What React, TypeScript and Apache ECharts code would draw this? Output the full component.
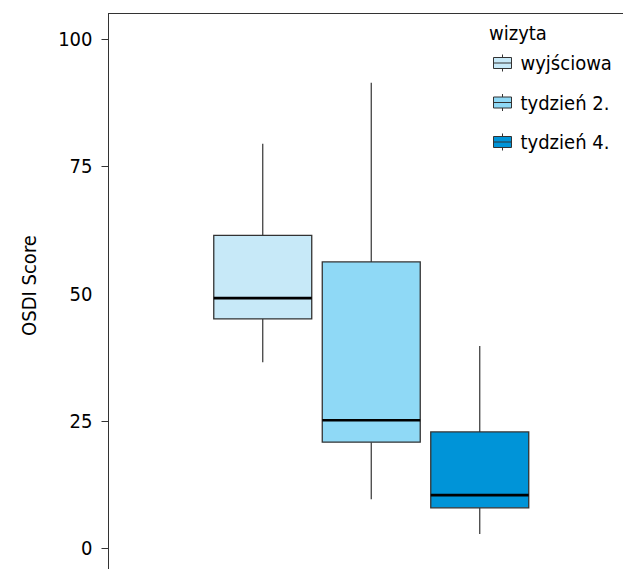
import React, { useEffect, useRef } from "react";
import * as echarts from "echarts";

const visits = ["wyjściowa", "tydzień 2.", "tydzień 4."];
const lowWhisker = [36.5, 9.6, 2.75];
const q1 = [45.0, 20.8, 7.9];
const median = [49.1, 25.1, 10.4];
const q3 = [61.4, 56.2, 22.8];
const highWhisker = [79.4, 91.4, 39.7];
const fills = ["#C7E9F8", "#8FD9F6", "#0094D8"];
const yLabelValues = [0, 25, 50, 75, 100];
const yTickValues = [0, 25, 75, 100];

const FONT = "'Liberation Sans Narrow', 'DejaVu Sans Condensed', 'Liberation Sans'";
const FS = 20;
const ICON = "path://M0 3 H18 V14 H0 Z M0 8.5 H18 M9 0 V3 M9 14 V17";

export default function App() {
  const ref = useRef<HTMLDivElement>(null);
  useEffect(() => {
    if (!ref.current) return;
    const chart = echarts.init(ref.current, undefined, { renderer: "svg" });
    const yRange = { min: -5, max: 105 };
    const series: any[] = visits.map((name, i) => ({
      type: "custom",
      name,
      xAxisIndex: 1,
      yAxisIndex: 1,
      itemStyle: { color: fills[i], borderColor: "#333", borderWidth: 1 },
      encode: { x: 0, y: [1, 2, 3, 4, 5] },
      data: [[i, lowWhisker[i], q1[i], median[i], q3[i], highWhisker[i]]],
      renderItem: (params: any, api: any) => {
        const cat = api.value(0);
        const pLow = api.coord([cat, api.value(1)]);
        const pQ1 = api.coord([cat, api.value(2)]);
        const pMed = api.coord([cat, api.value(3)]);
        const pQ3 = api.coord([cat, api.value(4)]);
        const pHigh = api.coord([cat, api.value(5)]);
        const bw = api.size([1, 0])[0] * 0.903;
        const x = pMed[0];
        return {
          type: "group",
          children: [
            { type: "line", shape: { x1: x, y1: pHigh[1], x2: x, y2: pQ3[1] }, style: { stroke: "#333", lineWidth: 1.2 } },
            { type: "line", shape: { x1: x, y1: pQ1[1], x2: x, y2: pLow[1] }, style: { stroke: "#333", lineWidth: 1.2 } },
            {
              type: "rect",
              shape: { x: x - bw / 2, y: pQ3[1], width: bw, height: pQ1[1] - pQ3[1] },
              style: { fill: fills[i], stroke: "#333", lineWidth: 1.3 },
            },
            { type: "line", shape: { x1: x - bw / 2, y1: pMed[1], x2: x + bw / 2, y2: pMed[1] }, style: { stroke: "#000", lineWidth: 2.6 } },
          ],
        };
      },
    }));

    chart.setOption({
      animation: false,
      backgroundColor: "#fff",
      textStyle: { fontFamily: FONT },
      title: {
        text: "wizyta",
        left: 489,
        top: 23,
        padding: 0,
        textStyle: { fontFamily: FONT, fontSize: FS, fontWeight: "normal", color: "#000" },
      },
      legend: {
        orient: "vertical",
        left: 493,
        top: 53,
        padding: 0,
        itemWidth: 18,
        itemHeight: 17,
        itemGap: 19.5,
        textStyle: { fontFamily: FONT, fontSize: FS, color: "#000", padding: [0, 0, 0, 4] },
        data: visits.map((name, i) => ({
          name,
          icon: ICON,
          itemStyle: { color: fills[i], borderColor: "#333", borderWidth: 1 },
        })),
      },
      grid: [
        { left: 108.5, top: 13.5, width: 700, height: 560, outerBoundsMode: "none", containLabel: false, show: true, borderColor: "#333", borderWidth: 1, backgroundColor: "transparent" },
        { left: 208.5, top: 13.5, width: 325.5, height: 560, outerBoundsMode: "none", containLabel: false },
      ],
      xAxis: [
        { type: "value", gridIndex: 0, show: false, min: 0, max: 1 },
        { type: "category", gridIndex: 1, show: false, data: visits },
      ],
      yAxis: [
        {
          type: "value",
          gridIndex: 0,
          ...yRange,
          name: "OSDI Score",
          nameLocation: "middle",
          nameGap: 70,
          nameTextStyle: { fontFamily: FONT, fontSize: FS, color: "#000", padding: [0, 0, 0, 16] },
          axisLine: { show: true, lineStyle: { color: "#333", width: 1 } },
          axisTick: { show: true, length: 7, customValues: yTickValues, lineStyle: { color: "#333" } },
          axisLabel: { customValues: yLabelValues, fontFamily: FONT, fontSize: FS, color: "#000", margin: 16 },
          splitLine: { show: false },
        },
        { type: "value", gridIndex: 1, show: false, ...yRange },
      ],
      series,
    });
    return () => chart.dispose();
  }, []);
  return <div ref={ref} style={{ position: "absolute", left: 0, top: 0, width: 623, height: 569 }} />;
}
